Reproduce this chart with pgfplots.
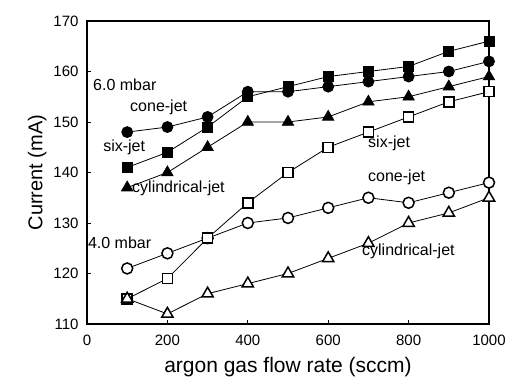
\documentclass[border=0pt]{standalone}
\usepackage{fontspec}
\setmainfont{Liberation Sans}
\usepackage{pgfplots}
\pgfplotsset{compat=1.18}

% Discharge current vs. argon flow rate for three nozzle types at two pressures
\pgfplotstableread{
x   cone6  six6  cyl6  cone4  six4  cyl4
100 148    141   137   121    115   115
200 149    144   140   124    119   112
300 151    149   145   127    127   116
400 156    155   150   130    134   118
500 156    157   150   131    140   120
600 157    159   151   133    145   123
700 158    160   154   135    148   126
800 159    161   155   134    151   130
900 160    164   157   136    154   132
1000 162   166   159   138    156   135
}\datatable

\begin{document}
\begin{tikzpicture}
\useasboundingbox (0,0) rectangle (508bp,378bp);
\begin{axis}[
  at={(87bp,54bp)}, anchor=south west,
  scale only axis, width=402bp, height=303bp,
  xmin=0, xmax=1000, ymin=110, ymax=170,
  xtick={0,200,...,1000}, ytick={110,120,...,170},
  tick pos=left, tick align=inside,
  major tick length=4bp,
  axis line style={line width=1.6bp},
  every tick/.style={black, line width=1bp},
  /pgf/number format/assume math mode=true,
  /pgf/number format/1000 sep={},
  tick label style={font=\fontsize{15bp}{17bp}\selectfont},
  xticklabel style={yshift=-8bp},
  yticklabel style={xshift=-5bp},
  xlabel={argon gas flow rate (sccm)},
  ylabel={Current (mA)},
  xlabel style={font=\fontsize{21bp}{24bp}\selectfont, yshift=-4bp},
  ylabel style={font=\fontsize{20bp}{23bp}\selectfont, yshift=0bp},
  clip=false,
  every axis plot/.append style={black, line width=0.8bp},
]
% 6.0 mbar, filled markers
\addplot[mark=*, mark size=5.5bp, mark options={solid, fill=black}] table[x=x, y=cone6] {\datatable};
\addplot[mark=square*, mark size=5bp, mark options={solid, fill=black}] table[x=x, y=six6] {\datatable};
\addplot[mark=triangle*, mark size=6.5bp, mark options={solid, fill=black}] table[x=x, y=cyl6] {\datatable};
% 4.0 mbar, open markers
\addplot[mark=*, mark size=5.5bp, mark options={solid, fill=white, draw=black, line width=1.5bp}] table[x=x, y=cone4] {\datatable};
\addplot[mark=square*, mark size=5bp, mark options={solid, fill=white, draw=black, line width=1.5bp}] table[x=x, y=six4] {\datatable};
\addplot[mark=triangle*, mark size=6.5bp, mark options={solid, fill=white, draw=black, line width=1.5bp}] table[x=x, y=cyl4] {\datatable};

\begin{scope}[every node/.style={font=\fontsize{16bp}{18bp}\selectfont, anchor=west, inner sep=0pt}]
\node at (axis cs:15,157.3) {6.0 mbar};
\node at (axis cs:107,152.8) {cone-jet};
\node at (axis cs:40,145.0) {six-jet};
\node at (axis cs:112,136.9) {cylindrical-jet};
\node at (axis cs:2,126.0) {4.0 mbar};
\node at (axis cs:699,145.8) {six-jet};
\node at (axis cs:699,139.1) {cone-jet};
\node at (axis cs:684,124.3) {cylindrical-jet};
\end{scope}
\end{axis}
\end{tikzpicture}
\end{document}
